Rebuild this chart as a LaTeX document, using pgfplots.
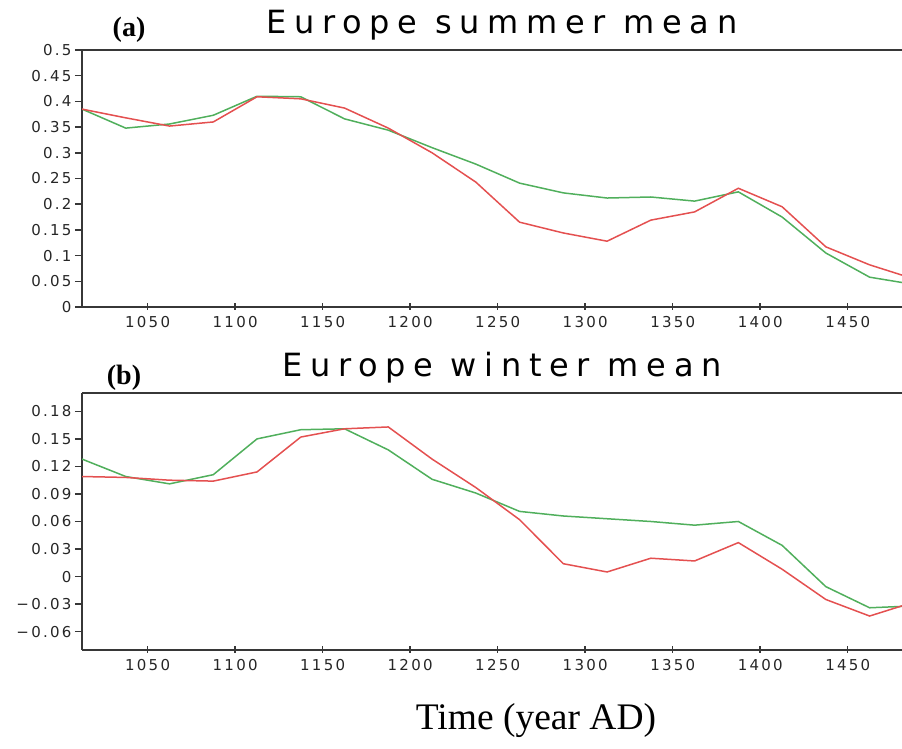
\documentclass[border=0pt]{standalone}
\usepackage{fontspec}
\setmainfont{Liberation Serif}
\newfontfamily\tickfont[LetterSpace=15]{DejaVu Sans}
\newfontfamily\titlefont[LetterSpace=24]{DejaVu Sans}
\usepackage{pgfplots}
\pgfplotsset{compat=1.18}

\definecolor{redline}{RGB}{228,80,80}
\definecolor{greenline}{RGB}{80,175,92}
\definecolor{axisgray}{RGB}{55,55,55}

% summer means, panel (a)
\pgfplotstableread{
year  red    green
1012.5 0.385 0.385
1037.5 0.368 0.348
1062.5 0.352 0.356
1087.5 0.360 0.373
1112.5 0.409 0.410
1137.5 0.405 0.409
1162.5 0.387 0.366
1187.5 0.348 0.344
1212.5 0.300 0.310
1237.5 0.243 0.278
1262.5 0.165 0.241
1287.5 0.144 0.222
1312.5 0.128 0.212
1337.5 0.169 0.214
1362.5 0.185 0.206
1387.5 0.231 0.224
1412.5 0.195 0.175
1437.5 0.117 0.105
1462.5 0.082 0.058
1487.5 0.055 0.044
}\summer

% winter means, panel (b)
\pgfplotstableread{
year  red    green
1012.5 0.109 0.128
1037.5 0.108 0.109
1062.5 0.105 0.101
1087.5 0.104 0.111
1112.5 0.114 0.150
1137.5 0.152 0.160
1162.5 0.161 0.161
1187.5 0.163 0.138
1212.5 0.128 0.106
1237.5 0.097 0.091
1262.5 0.062 0.071
1287.5 0.014 0.066
1312.5 0.005 0.063
1337.5 0.020 0.060
1362.5 0.017 0.056
1387.5 0.037 0.060
1412.5 0.008 0.034
1437.5 -0.025 -0.011
1462.5 -0.043 -0.034
1487.5 -0.028 -0.032
}\winter

\pgfplotsset{
  panel/.style={
    scale only axis,
    width=820pt, height=257pt,
    anchor=south west,
    xmin=1012.5, xmax=1481,
    axis y line*=left,
    xtick pos=lower, ytick pos=left,
    axis line style={axisgray, line width=2pt},
    tick align=outside,
    major tick length=7pt,
    tick style={axisgray, line width=1.5pt},
    xtick style={yshift=4pt},
    xtick={1050,1100,...,1450},
    xticklabels={1050,1100,1150,1200,1250,1300,1350,1400,1450},
    ticklabel style={font=\fontsize{15}{17}\tickfont, text=black!85},
    xticklabel style={yshift=1pt},
    every axis plot/.append style={line width=1.5pt, no markers},
  }
}

\begin{document}
\begin{tikzpicture}
\useasboundingbox (0,0) rectangle (902pt,749pt);

\begin{axis}[panel, at={(82pt,442pt)},
    ymin=0, ymax=0.5,
    ytick={0,0.05,...,0.5},
    yticklabels={0,0.05,0.1,0.15,0.2,0.25,0.3,0.35,0.4,0.45,0.5}]
\addplot[greenline] table[x=year, y=green] {\summer};
\addplot[redline] table[x=year, y=red] {\summer};
\end{axis}

\begin{axis}[panel, at={(82pt,99pt)},
    ymin=-0.08, ymax=0.2,
    ytick={-0.06,-0.03,0,0.03,0.06,0.09,0.12,0.15,0.18},
    yticklabels={−0.06,−0.03,0,0.03,0.06,0.09,0.12,0.15,0.18}]
\addplot[greenline] table[x=year, y=green] {\winter};
\addplot[redline] table[x=year, y=red] {\winter};
\end{axis}

\node at (502pt,724pt) {\fontsize{32}{34}\titlefont Europe summer mean};
\node at (502pt,381pt) {\fontsize{32}{34}\titlefont Europe winter mean};
\node at (129pt,719pt) {\fontsize{28}{30}\selectfont\bfseries (a)};
\node at (124pt,371pt) {\fontsize{28}{30}\selectfont\bfseries (b)};
\node at (536pt,28pt) {\fontsize{37.5}{40}\selectfont Time (year AD)};
\end{tikzpicture}
\end{document}
